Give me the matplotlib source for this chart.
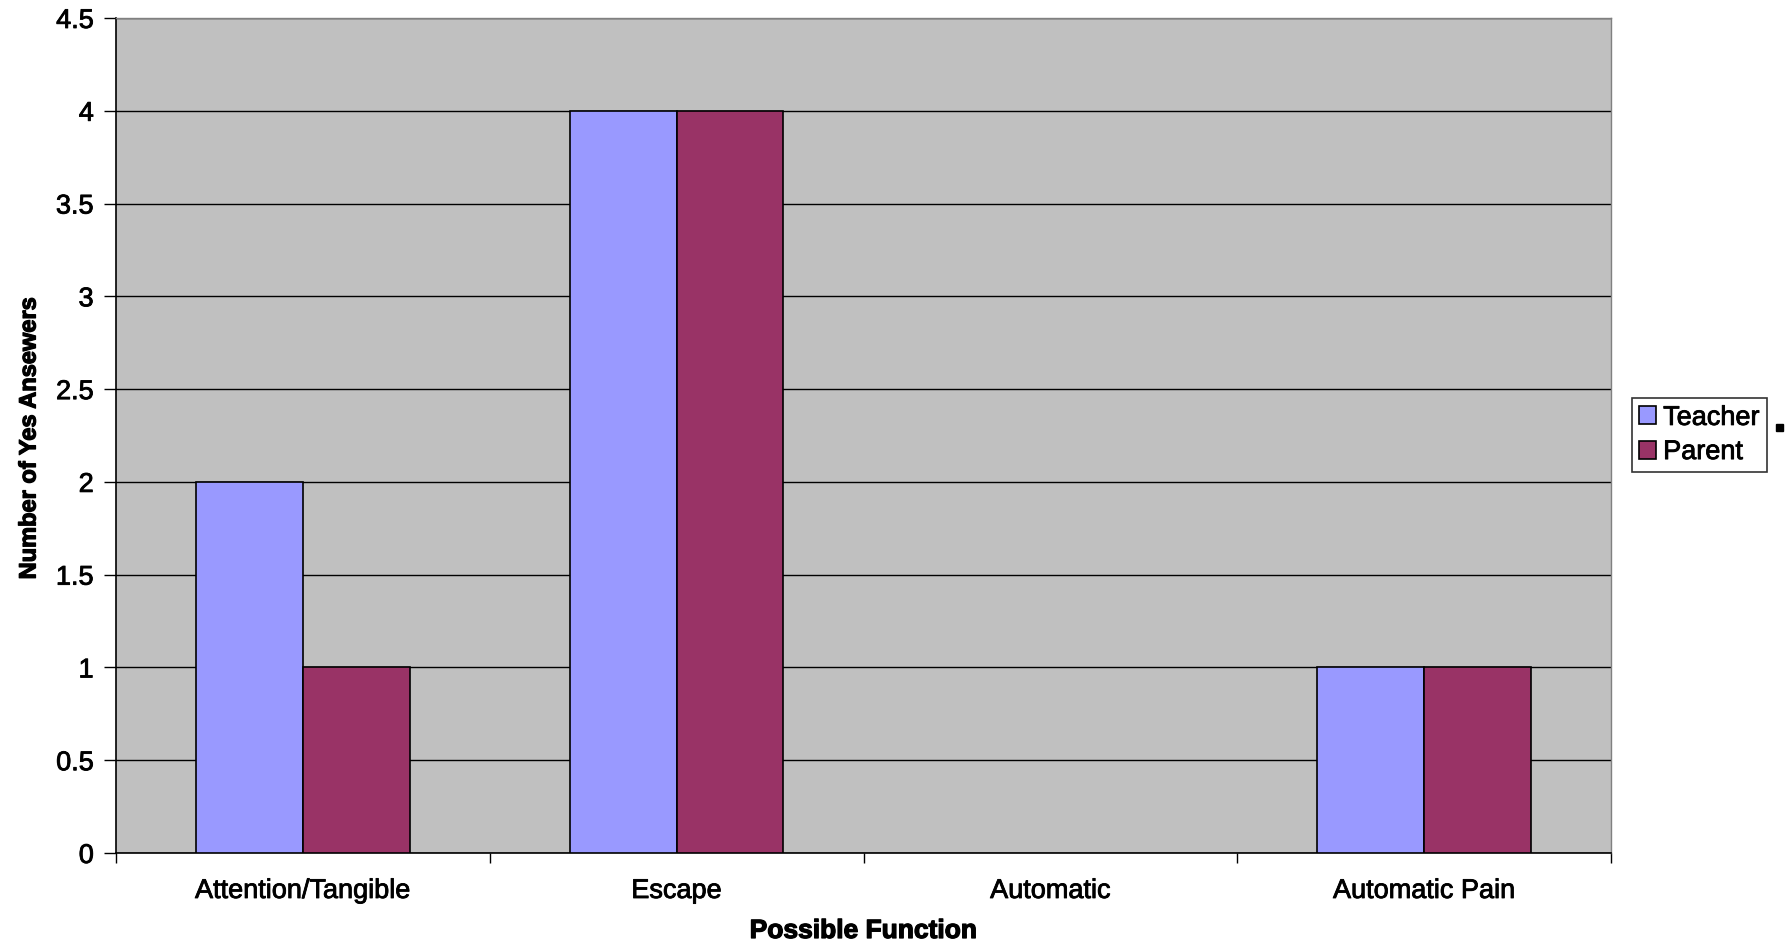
import matplotlib
matplotlib.use("Agg")
import matplotlib.pyplot as plt
import matplotlib.patheffects as pe
import numpy as np

categories = ["Attention/Tangible", "Escape", "Automatic", "Automatic Pain"]
teacher = [2, 4, 0, 1]
parent = [1, 4, 0, 1]
series_names = ["Teacher", "Parent"]
yticks = [0, 0.5, 1, 1.5, 2, 2.5, 3, 3.5, 4, 4.5]

plt.rcParams['font.family'] = ['Liberation Sans', 'DejaVu Sans']
heavy = [pe.withStroke(linewidth=0.6, foreground='black')]
heavier = [pe.withStroke(linewidth=0.9, foreground='black')]

fig = plt.figure(figsize=(17.87, 9.51), dpi=100)
ax = fig.add_axes([116/1787, 1-853/951, (1611-116)/1787, (853-18)/951])
ax.set_facecolor('#c0c0c0')

x = np.arange(len(categories))
w = 1/3.5
for vals, off, col, name in [(teacher, -w/2, '#9999ff', series_names[0]),
                             (parent, w/2, '#993366', series_names[1])]:
    lws = [1.2 if v != 0 else 0 for v in vals]
    ax.bar(x + off, vals, w, color=col, edgecolor='black', linewidth=lws, label=name, zorder=3)

ax.set_xlim(-0.5, len(categories) - 0.5)
ax.set_ylim(0, 4.5)
ax.set_yticks(yticks)
ax.set_yticklabels([f"{v:g}" for v in yticks], fontsize=19.5)
ax.yaxis.grid(True, color='black', linewidth=1.0, zorder=1)
ax.set_axisbelow(True)

ax.set_xticks(np.arange(len(categories) + 1) - 0.5, minor=False)
ax.set_xticklabels([])
ax.set_xticks(x, minor=True)
ax.set_xticklabels(categories, minor=True, fontsize=19.5)
ax.tick_params(axis='x', which='minor', length=0, pad=18)
ax.tick_params(axis='x', which='major', length=7, width=1, direction='out')
ax.tick_params(axis='y', length=9, width=1, direction='out', pad=7)
for t in ax.get_xticklabels(minor=True) + ax.get_yticklabels():
    t.set_path_effects(heavy)

for s in ['top', 'right']:
    ax.spines[s].set_color('#808080')
    ax.spines[s].set_linewidth(1)
ax.spines['left'].set_linewidth(1.2)
ax.spines['bottom'].set_linewidth(1.2)

fig.text(863.5/1787, 1-931/951, "Possible Function", fontsize=19, fontweight='bold',
         ha='center', va='center', path_effects=heavier)
fig.text(29/1787, 1-438/951, "Number of Yes Ansewers", fontsize=17, fontweight='bold',
         ha='center', va='center', rotation=90, path_effects=heavier)

leg = ax.legend(loc='center left', bbox_to_anchor=(1632/1787, 1-435/951), bbox_transform=fig.transFigure,
                fontsize=19.5, frameon=True, fancybox=False, edgecolor='black', borderpad=0.25,
                handlelength=0.65, handleheight=0.65, handletextpad=0.25, labelspacing=0.3, borderaxespad=0)
leg.get_frame().set_linewidth(1.2)
for t in leg.get_texts():
    t.set_path_effects(heavy)
fig.patches.append(plt.Rectangle((1776/1787, 1-431/951), 7/1787, 7/951, transform=fig.transFigure, color='black'))

fig.savefig("out.png", dpi=100)
